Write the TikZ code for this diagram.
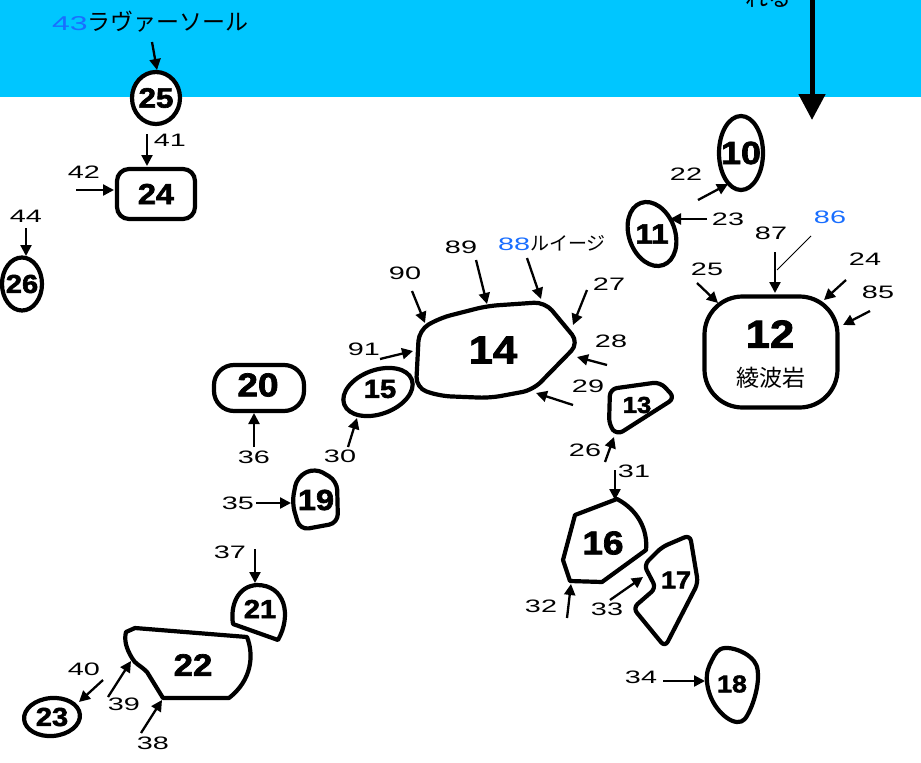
\documentclass[tikz,border=0pt]{standalone}
\usepackage{fontspec}
\setmainfont{Liberation Sans}
\newfontfamily\labfont[FakeStretch=1.6]{Liberation Sans}
\newfontfamily\numfont[FakeStretch=1.12,FakeBold=2.2]{Liberation Sans}
\newfontfamily\jpfont{Noto Sans CJK JP}
\usetikzlibrary{shapes.geometric,arrows.meta}
\definecolor{band}{RGB}{0,198,255}
\definecolor{lblue}{RGB}{25,110,255}
\tikzset{
  shp/.style={line width=4.2pt, line join=round},
  ell/.style={ellipse, draw, line width=4.2pt, inner sep=0pt},
  rbox/.style={rectangle, draw, line width=4.2pt, inner sep=0pt},
  num/.style={font=\numfont\bfseries\fontsize{#1}{#1}\selectfont, inner sep=0pt},
  num/.default=30,
  lab/.style={font=\labfont\fontsize{18}{18}\selectfont, inner sep=0pt},
  jp/.style={font=\jpfont\fontsize{#1}{#1}\selectfont, inner sep=0pt},
  jp/.default=23,
  arr/.style={line width=2.3pt, -{Triangle[length=11pt,width=11pt]}},
  bigarr/.style={line width=5pt, -{Triangle[length=26pt,width=26pt]}}
}
\begin{document}
\begin{tikzpicture}[x=1pt,y=-1pt]
\useasboundingbox (0,0) rectangle (921,763);
\clip (0,0) rectangle (921,763);
\fill[band] (0,0) rectangle (921,97);

% top right text (cut at the top edge, as in the reference) and big arrow
\node[jp, anchor=south] (ttop) at (768,8) {れる};
\coordinate (bigs) at (812,-5);
\coordinate (bige) at (812,120);
\draw[bigarr] (bigs) -- (bige);

% ---------- left column ----------
\node[anchor=west, inner sep=0pt] (t43) at (52,22)
  {{\labfont\fontsize{20}{20}\selectfont\color{lblue}43}{\jpfont\fontsize{23}{23}\selectfont ラヴァーソール}};
\node[ell, minimum width=48pt, minimum height=52pt, fill=white] (n25) at (156,98) {};
\node[num=28] at (n25) {25};
\coordinate (a43s) at (152,42); \coordinate (a43e) at (157,70);
\draw[arr] (a43s) -- (a43e);

\node[rbox, rounded corners=12pt, minimum width=78pt, minimum height=50pt] (n24) at (156,194) {};
\node[num=29] at (n24) {24};
\node[lab] (l41) at (170,140) {41};
\coordinate (a41s) at (147,134); \coordinate (a41e) at (147,166);
\draw[arr] (a41s) -- (a41e);
\node[lab] (l42) at (84,172) {42};
\coordinate (a42s) at (76,190); \coordinate (a42e) at (114,190);
\draw[arr] (a42s) -- (a42e);

\node[ell, minimum width=40pt, minimum height=53pt] (n26) at (22,284) {};
\node[num=26] at (n26) {26};
\node[lab] (l44) at (26,216) {44};
\coordinate (a44s) at (26,228); \coordinate (a44e) at (26,256);
\draw[arr] (a44s) -- (a44e);

% ---------- 10, 11, 12 ----------
\node[ell, minimum width=44pt, minimum height=74pt] (n10) at (741,153) {};
\node[num=32] at (n10) {10};
\node[lab] (l22) at (686,174) {22};
\coordinate (a22s) at (698,200); \coordinate (a22e) at (728,184);
\draw[arr] (a22s) -- (a22e);

\node[ell, minimum width=46pt, minimum height=66pt, rotate=20] (n11) at (652,234) {};
\node[num=28] at (n11) {11};
\node[lab] (l23) at (728,219) {23};
\coordinate (a23s) at (707,219); \coordinate (a23e) at (670,219);
\draw[arr] (a23s) -- (a23e);

\node[rbox, rounded corners=38pt, minimum width=133pt, minimum height=111pt] (n12) at (771,352) {};
\node[num=39] (n12t) at (770,334) {12};
\node[jp=23] (n12j) at (771,378) {綾波岩};
\node[lab] (l25) at (707,269) {25};
\coordinate (a25s) at (697,283); \coordinate (a25e) at (718,303);
\draw[arr] (a25s) -- (a25e);
\node[lab] (l87) at (771,233) {87};
\coordinate (a87s) at (775,252); \coordinate (a87e) at (775,293);
\draw[arr] (a87s) -- (a87e);
\node[lab, text=lblue] (l86) at (830,217) {86};
\coordinate (a86s) at (811,236); \coordinate (a86e) at (777,270);
\draw[line width=1pt] (a86s) -- (a86e);
\node[lab] (l24) at (865,259) {24};
\coordinate (a24s) at (846,280); \coordinate (a24e) at (824,300);
\draw[arr] (a24s) -- (a24e);
\node[lab] (l85) at (878,292) {85};
\coordinate (a85s) at (870,311); \coordinate (a85e) at (843,325);
\draw[arr] (a85s) -- (a85e);

% ---------- 14 ----------
\draw[shp, rounded corners=11pt] (416,388) -- (419,330) -- (440,318) -- (487,306) -- (545,302) -- (579,343) -- (533,390) -- (490,398) -- (440,396) -- cycle;
\node[num=39] (n14) at (493,350) {14};
\node[lab] (l90) at (405,273) {90};
\coordinate (a90s) at (412,291); \coordinate (a90e) at (425,323);
\draw[arr] (a90s) -- (a90e);
\node[lab] (l89) at (461,247) {89};
\coordinate (a89s) at (476,260); \coordinate (a89e) at (487,304);
\draw[arr] (a89s) -- (a89e);
\node[anchor=west, inner sep=0pt] (l88) at (498,243)
  {{\labfont\fontsize{18}{18}\selectfont\color{lblue}88}{\jpfont\fontsize{19}{19}\selectfont ルイージ}};
\coordinate (a88s) at (527,258); \coordinate (a88e) at (541,299);
\draw[arr] (a88s) -- (a88e);
\node[lab] (l27) at (609,284) {27};
\coordinate (a27s) at (587,290); \coordinate (a27e) at (573,325);
\draw[arr] (a27s) -- (a27e);
\node[lab] (l28) at (611,341) {28};
\coordinate (a28s) at (607,365); \coordinate (a28e) at (577,357);
\draw[arr] (a28s) -- (a28e);
\node[lab] (l29) at (588,386) {29};
\coordinate (a29s) at (573,405); \coordinate (a29e) at (536,393);
\draw[arr] (a29s) -- (a29e);
\node[lab] (l91) at (364,349) {91};
\coordinate (a91s) at (380,359); \coordinate (a91e) at (413,351);
\draw[arr] (a91s) -- (a91e);

% ---------- 15, 20, 19 ----------
\node[ell, minimum width=72pt, minimum height=44pt, rotate=20, fill=white] (n15) at (378,392) {};
\node[num=26] at (380,389) {15};
\node[lab] (l30) at (340,456) {30};
\coordinate (a30s) at (348,447); \coordinate (a30e) at (357,418);
\draw[arr] (a30s) -- (a30e);

\node[rbox, rounded corners=20pt, minimum width=90pt, minimum height=46pt] (n20) at (259,388) {};
\node[num=33] at (258,385) {20};
\node[lab] (l36) at (254,457) {36};
\coordinate (a36s) at (254,447); \coordinate (a36e) at (254,413);
\draw[arr] (a36s) -- (a36e);

\draw[shp, rounded corners=9pt] (315,468) -- (337,481) -- (338,523) -- (300,530) -- (292,503) -- (297,477) -- cycle;
\node[num=29] (n19) at (316,500) {19};
\node[lab] (l35) at (238,503) {35};
\coordinate (a35s) at (256,503); \coordinate (a35e) at (291,503);
\draw[arr] (a35s) -- (a35e);

% ---------- 13, 16, 17, 18 ----------
\draw[shp, rounded corners=7pt] (610,389) -- (660,382) -- (675,398) -- (617,435) -- (609,425) -- cycle;
\node[num=23] (n13) at (637,405) {13};
\node[lab] (l26) at (585,450) {26};
\coordinate (a26s) at (605,462); \coordinate (a26e) at (614,437);
\draw[arr] (a26s) -- (a26e);
\node[lab] (l31) at (634,471) {31};
\coordinate (a31s) at (615,470); \coordinate (a31e) at (615,500);
\draw[arr] (a31s) -- (a31e);

\draw[shp] (617,499) .. controls (638,510) and (648,530) .. (646,550) -- (602,582) -- (570,581) -- (563,560) -- (575,515) -- cycle;
\node[num=33] (n16) at (603,543) {16};
\node[lab] (l32) at (541,606) {32};
\coordinate (a32s) at (567,618); \coordinate (a32e) at (571,584);
\draw[arr] (a32s) -- (a32e);

\draw[shp, rounded corners=6pt] (690,535) -- (698,583) -- (665,647) -- (633,608) -- (656,588) -- (644,565) -- (662,547) -- cycle;
\node[num=24] (n17) at (676,580) {17};
\node[lab] (l33) at (607,609) {33};
\coordinate (a33s) at (610,600); \coordinate (a33e) at (643,577);
\draw[arr] (a33s) -- (a33e);

\draw[shp] plot[smooth cycle, tension=0.7] coordinates {(725,648) (750,657) (758,677) (750,710) (737,722) (717,708) (707,682) (712,660)};
\node[num=24] (n18) at (732,684) {18};
\node[lab] (l34) at (641,677) {34};
\coordinate (a34s) at (663,681); \coordinate (a34e) at (705,681);
\draw[arr] (a34s) -- (a34e);

% ---------- 21, 22, 23 ----------
\draw[shp] (233,624) -- (278,640) .. controls (292,615) and (285,585) .. (257,585) .. controls (238,586) and (230,605) .. cycle;
\node[num=26] (n21) at (260,609) {21};
\node[lab] (l37) at (230,552) {37};
\coordinate (a37s) at (255,549); \coordinate (a37e) at (255,583);
\draw[arr] (a37s) -- (a37e);

\draw[shp] (135,628) -- (247,637) .. controls (254,655) and (252,680) .. (229,698) -- (163,698) -- (147,672) .. controls (140,665) and (135,664) .. (132,658) .. controls (126,648) and (124,640) .. (126,632) -- cycle;
\node[num=31] (n22) at (193,665) {22};
\node[lab] (l38) at (153,743) {38};
\coordinate (a38s) at (141,733); \coordinate (a38e) at (162,700);
\draw[arr] (a38s) -- (a38e);
\node[lab] (l39) at (124,704) {39};
\coordinate (a39s) at (108,697); \coordinate (a39e) at (131,661);
\draw[arr] (a39s) -- (a39e);
\node[lab] (l40) at (84,669) {40};
\coordinate (a40s) at (103,680); \coordinate (a40e) at (79,702);
\draw[arr] (a40s) -- (a40e);

\node[ell, minimum width=56pt, minimum height=38pt, rotate=5] (n23) at (52,717) {};
\node[num=26] at (n23) {23};
\end{tikzpicture}
\end{document}
